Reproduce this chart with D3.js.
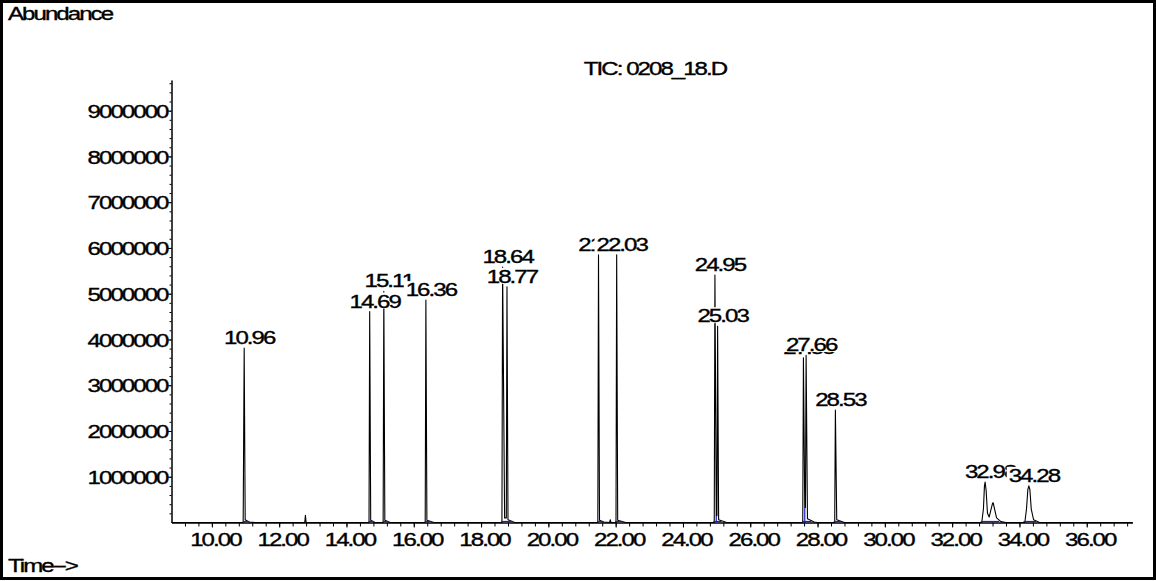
<!DOCTYPE html>
<html>
<head>
<meta charset="utf-8">
<script src="https://cdn.jsdelivr.net/npm/d3@7"></script>
<style>
    body { margin: 0; background: #fff; }
    svg { display: block; }
    text {
        font-family: "Liberation Sans", Arial, sans-serif;
        font-size: 18.5px;
        letter-spacing: -1.5px;
        fill: #000;
        stroke: #000;
        stroke-width: 0.35px;
    }
</style>
</head>
<body>
<svg id="chart" width="1156" height="581"></svg>
<script>
// labelled peaks: retention time (min) and apex abundance
const peakTimes = [10.96, 14.69, 15.11, 16.36, 18.64, 18.77, 21.49, 22.03, 24.95, 25.03, 27.58, 27.66, 28.53, 32.98, 34.28];
const peakHeights = [3810000, 4610000, 5050000, 4860000, 5580000, 5150000, 5850000, 5850000, 5410000, 4290000, 3600000, 3660000, 2460000, 885000, 800000];

// the TIC trace: [time, abundance]
const trace = [
    [8.80, 0], [10.93, 0], [10.96, 3810000], [10.99, 60000], [11.10, 10000], [11.30, 0],
    [12.76, 0], [12.78, 160000], [12.80, 0],
    [14.67, 0], [14.69, 4610000], [14.72, 50000], [14.85, 0],
    [15.09, 0], [15.11, 5050000], [15.14, 50000], [15.30, 0],
    [16.34, 0], [16.36, 4860000], [16.39, 50000], [16.60, 0],
    [18.62, 0], [18.64, 5580000], [18.70, 100000], [18.75, 100000], [18.77, 5150000], [18.80, 60000], [19.00, 0],
    [21.47, 0], [21.49, 5850000], [21.52, 50000], [21.65, 10000], [21.82, 0], [21.84, 60000], [21.86, 0],
    [22.01, 0], [22.03, 5850000], [22.06, 50000], [22.30, 0],
    [24.93, 0], [24.95, 5410000], [24.99, 150000], [25.01, 150000], [25.03, 4290000], [25.06, 60000], [25.30, 0],
    [27.56, 0], [27.58, 3600000], [27.62, 330000], [27.64, 330000], [27.66, 3660000], [27.70, 80000], [27.90, 10000], [28.00, 0],
    [28.51, 0], [28.53, 2460000], [28.57, 60000], [28.80, 0],
    [32.88, 0], [32.93, 300000], [32.96, 800000], [32.98, 885000], [33.01, 700000], [33.05, 200000], [33.10, 120000],
    [33.16, 300000], [33.20, 420000], [33.22, 430000], [33.25, 330000], [33.32, 100000], [33.45, 20000], [33.60, 0],
    [34.16, 0], [34.21, 300000], [34.25, 720000], [34.28, 800000], [34.31, 720000], [34.35, 300000], [34.42, 60000], [34.60, 0],
    [37.36, 0]
];

// integration baselines (blue) and peak split drop lines
const integrationWindows = [
    [10.92, 11.12], [14.66, 14.82], [15.08, 15.24], [16.33, 16.52], [18.60, 18.95],
    [21.45, 21.62], [21.98, 22.18], [24.90, 25.15], [27.54, 27.82], [28.48, 28.70],
    [32.85, 33.40], [34.12, 34.50]
];
const splits = [[24.99, 150000], [27.62, 330000]];

const xTickLabels = [10, 12, 14, 16, 18, 20, 22, 24, 26, 28, 30, 32, 34, 36];
const yTickLabels = [1000000, 2000000, 3000000, 4000000, 5000000, 6000000, 7000000, 8000000, 9000000];

const TITLE = "TIC: 0208_18.D";
const STRETCH = 1.3;

const svg = d3.select("#chart");

const x = d3.scaleLinear().domain([8.8, 37.36]).range([171.5, 1132.5]);
const y = d3.scaleLinear().domain([0, 9670000]).range([522.5, 80]);

/**
 * Put a horizontally stretched label at (px, py), the way the old
 * instrument fonts render.
 */
function stretchedText(parent, px, py, str, anchor) {
    let g = parent.append("g")
        .attr("transform", `translate(${px},${py}) scale(${STRETCH},1)`);
    g.append("text")
        .attr("text-anchor", anchor || "start")
        .text(str);
    return g;
}

// frame
svg.append("rect")
    .attr("x", 1.5)
    .attr("y", 1.5)
    .attr("width", 1153)
    .attr("height", 577)
    .attr("fill", "none")
    .attr("stroke", "#000")
    .attr("stroke-width", 3);

stretchedText(svg, 8, 20, "Abundance");
stretchedText(svg, 8, 572, "Time-->");
stretchedText(svg, 655, 75, TITLE, "middle");

/**** AXES ****/

let xAxisG = svg.append("g").attr("transform", `translate(0,${y(0)})`);
xAxisG.append("g")
    .call(d3.axisBottom(x)
        .tickValues(d3.range(9.2, 37.3, 0.4))
        .tickSize(4)
        .tickSizeOuter(0)
        .tickFormat(""));
xAxisG.append("g")
    .call(d3.axisBottom(x)
        .tickValues(xTickLabels)
        .tickSize(5)
        .tickSizeOuter(0)
        .tickFormat(d3.format(".2f")));

let yAxisG = svg.append("g").attr("transform", `translate(${x.range()[0]},0)`);
yAxisG.append("g")
    .call(d3.axisLeft(y)
        .tickValues(d3.range(200000, 9670000, 200000))
        .tickSize(2)
        .tickSizeOuter(0)
        .tickFormat(""));
yAxisG.append("g")
    .call(d3.axisLeft(y)
        .tickValues(yTickLabels)
        .tickSize(4)
        .tickSizeOuter(0)
        .tickFormat(d3.format("d")));

svg.selectAll(".domain, .tick line")
    .attr("stroke", "#000")
    .attr("stroke-width", 1);

xAxisG.selectAll(".tick text")
    .attr("y", 24)
    .attr("dy", null)
    .attr("x", 3 / STRETCH)
    .attr("transform", `scale(${STRETCH},1)`)
    .attr("font-size", null)
    .attr("font-family", null)
    .attr("fill", "#000");

yAxisG.selectAll(".tick text")
    .attr("x", -4 / STRETCH)
    .attr("dy", "0.36em")
    .attr("transform", `scale(${STRETCH},1)`)
    .attr("font-size", null)
    .attr("font-family", null)
    .attr("fill", "#000");

svg.selectAll(".tick text").style("font-size", "18.5px");

/**** TRACE ****/

let line = d3.line()
    .x(d => x(d[0]))
    .y(d => y(d[1]));

svg.append("path")
    .datum(trace)
    .attr("d", line)
    .attr("fill", "none")
    .attr("stroke", "#000")
    .attr("stroke-width", 1.1)
    .attr("stroke-linejoin", "round");

let integ = svg.append("g")
    .attr("stroke", "#1c1cc8")
    .attr("stroke-width", 1.2);
integ.selectAll("line.base")
    .data(integrationWindows)
    .join("line")
    .classed("base", true)
    .attr("x1", d => x(d[0]))
    .attr("x2", d => x(d[1]))
    .attr("y1", y(0) - 1)
    .attr("y2", y(0) - 1);
integ.selectAll("line.split")
    .data(splits)
    .join("line")
    .classed("split", true)
    .attr("x1", d => x(d[0]))
    .attr("x2", d => x(d[0]))
    .attr("y1", d => y(d[1]))
    .attr("y2", y(0));

/**** PEAK LABELS ****/
// drawn in time order, each on a white box, so later labels hide earlier ones

let labels = svg.append("g");
peakTimes.forEach((t, i) => {
    let g = stretchedText(labels, x(t) + 5, y(peakHeights[i]) - 4, t.toFixed(2), "middle");
    let bb = g.select("text").node().getBBox();
    g.insert("rect", "text")
        .attr("x", bb.x - 1.5)
        .attr("width", bb.width + 3)
        .attr("y", -15)
        .attr("height", 16)
        .attr("fill", "#fff")
        .attr("stroke", "none");
});
</script>
</body>
</html>
